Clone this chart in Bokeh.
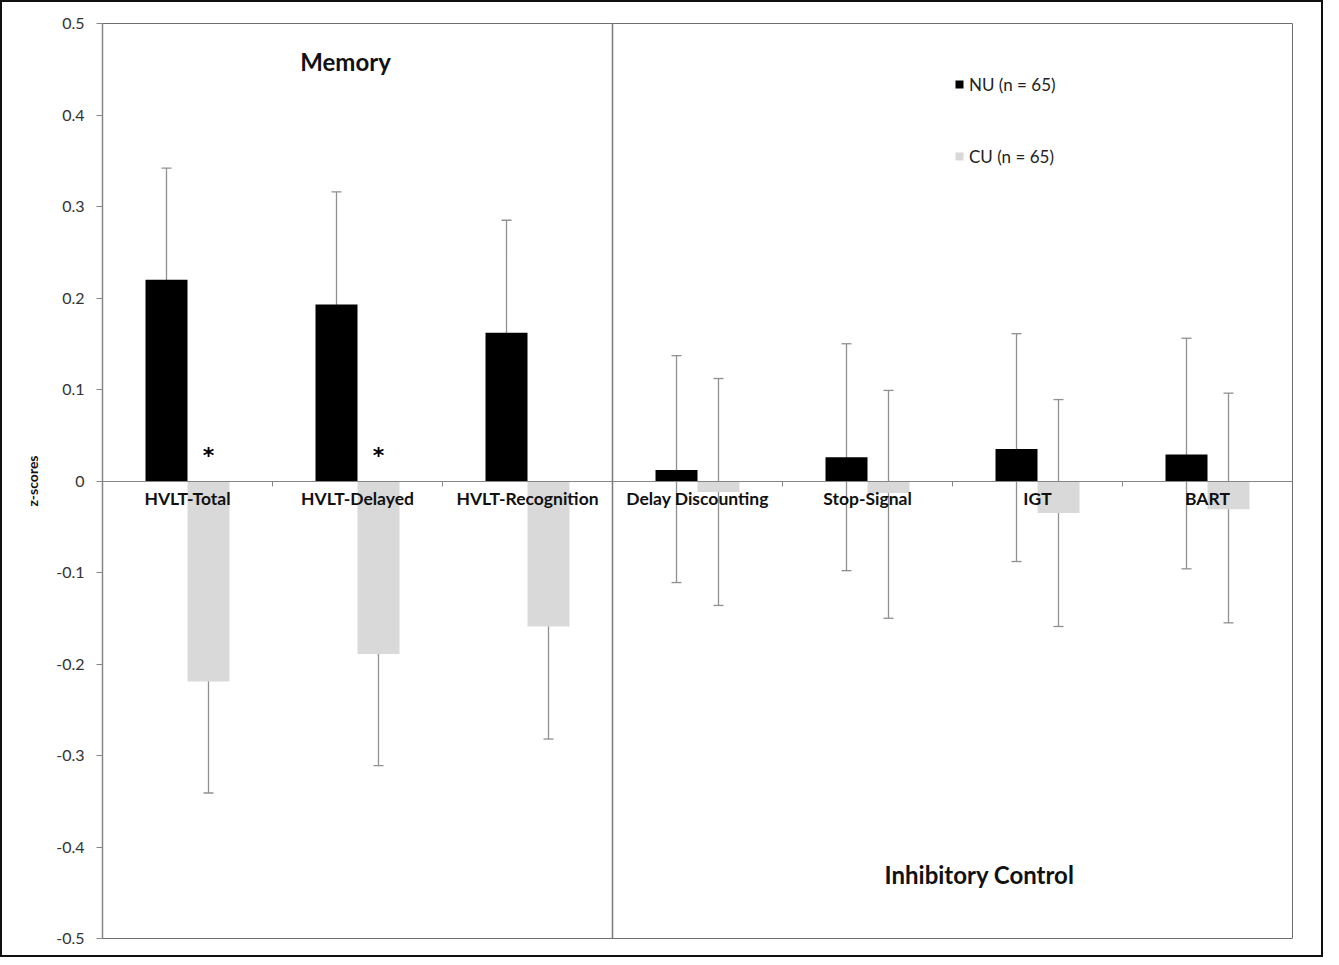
from bokeh.plotting import figure
from bokeh.models import (ColumnDataSource, FixedTicker, Span, Label, Whisker,
                          TeeHead, Legend, LegendItem, Range1d)
from bokeh.transform import dodge
from bokeh.core.properties import value
from bokeh.embed import file_html
from bokeh.resources import INLINE

# ---------------- data ----------------
categories = ["HVLT-Total", "HVLT-Delayed", "HVLT-Recognition",
              "Delay Discounting", "Stop-Signal", "IGT", "BART"]
groups = ["Memory", "Memory", "Memory",
          "Inhibitory Control", "Inhibitory Control", "Inhibitory Control", "Inhibitory Control"]
nu_mean = [0.220, 0.193, 0.162, 0.012, 0.026, 0.035, 0.029]
nu_hi = [0.342, 0.316, 0.285, 0.137, 0.150, 0.161, 0.156]
nu_lo = [0.098, 0.071, 0.038, -0.111, -0.098, -0.088, -0.096]
cu_mean = [-0.219, -0.189, -0.159, -0.012, -0.013, -0.035, -0.031]
cu_hi = [-0.098, -0.067, -0.035, 0.112, 0.099, 0.089, 0.096]
cu_lo = [-0.341, -0.311, -0.282, -0.136, -0.150, -0.159, -0.155]
sig_marks = ["*", "*", "", "", "", "", ""]
y_ticks = [-0.5, -0.4, -0.3, -0.2, -0.1, 0, 0.1, 0.2, 0.3, 0.4, 0.5]
y_tick_labels = ["-0.5", "-0.4", "-0.3", "-0.2", "-0.1", "0", "0.1", "0.2", "0.3", "0.4", "0.5"]
nu_label = "NU (n = 65)"
cu_label = "CU (n = 65)"

# ---------------- styles ----------------
FONT = "Lato"
NU_COLOR = "#000000"
CU_COLOR = "#d9d9d9"
ERR_COLOR = "#909090"
AXIS_COLOR = "#868686"
BAR_W = 0.247

xs = list(range(len(categories)))
src = ColumnDataSource(dict(x=xs, cat=categories, nu=nu_mean, nu_hi=nu_hi, nu_lo=nu_lo,
                            cu=cu_mean, cu_hi=cu_hi, cu_lo=cu_lo, sig=sig_marks))

p = figure(width=1323, height=957, output_backend="svg", toolbar_location=None,
           x_range=Range1d(-0.5, len(categories) - 0.5), y_range=Range1d(-0.5, 0.5),
           min_border_left=100, min_border_right=33, min_border_top=21, min_border_bottom=21)
p.styles = {"border": "2px solid #111111", "box-sizing": "border-box"}
p.grid.visible = False
p.outline_line_color = "#6e6e6e"
p.outline_line_width = 1
p.background_fill_color = "white"
p.border_fill_color = "white"

# bars
r_nu = p.vbar(x=dodge("x", -BAR_W / 2, range=p.x_range), top="nu", bottom=0, width=BAR_W,
              source=src, fill_color=NU_COLOR, line_color=None)
r_cu = p.vbar(x=dodge("x", BAR_W / 2, range=p.x_range), top="cu", bottom=0, width=BAR_W,
              source=src, fill_color=CU_COLOR, line_color=None)

# error bars
for off, lo, hi in [(-BAR_W / 2, "nu_lo", "nu_hi"), (BAR_W / 2, "cu_lo", "cu_hi")]:
    w = Whisker(source=src, base=dodge("x", off, range=p.x_range), lower=lo, upper=hi,
                line_color=ERR_COLOR, line_width=1.3,
                upper_head=TeeHead(size=10, line_color=ERR_COLOR, line_width=1.3),
                lower_head=TeeHead(size=10, line_color=ERR_COLOR, line_width=1.3))
    p.add_layout(w)

# significance marks
p.text(x=dodge("x", BAR_W / 2, range=p.x_range), y=0, text="sig", source=src,
       text_font=value("DejaVu Sans"), text_font_style="bold", text_font_size="22px",
       text_align="center", text_baseline="middle", y_offset=-26, text_color="black")

# divider between domains
n_mem = groups.count("Memory")
p.add_layout(Span(location=n_mem - 0.5, dimension="height", line_color="#7a7a7a", line_width=1.5))

# domain titles
p.add_layout(Label(x=(n_mem - 1) / 2, y=0.5, x_offset=-12, y_offset=-38, text="Memory",
                   text_font=FONT, text_font_style="bold", text_font_size="24px",
                   text_color="#111111", text_align="center", text_baseline="middle"))
p.add_layout(Label(x=(n_mem + len(categories) - 1) / 2, y=-0.5, x_offset=27, y_offset=64,
                   text="Inhibitory Control", text_color="#111111",
                   text_font=FONT, text_font_style="bold", text_font_size="24px",
                   text_align="center", text_baseline="middle"))

# x axis pinned at zero
xa = p.xaxis[0]
xa.fixed_location = 0
xa.ticker = FixedTicker(ticks=xs, minor_ticks=[i + 0.5 for i in xs[:-1]])
xa.major_label_overrides = {i: c for i, c in zip(xs, categories)}
xa.major_tick_line_color = None
xa.minor_tick_line_color = AXIS_COLOR
xa.minor_tick_out = 5
xa.minor_tick_in = 0
xa.axis_line_color = AXIS_COLOR
xa.major_label_standoff = 1
xa.major_label_text_font = FONT
xa.major_label_text_font_style = "bold"
xa.major_label_text_font_size = "17.5px"
xa.major_label_text_color = "#111111"

# y axis
ya = p.yaxis[0]
ya.ticker = FixedTicker(ticks=y_ticks, minor_ticks=[])
ya.major_label_overrides = {t: l for t, l in zip(y_ticks, y_tick_labels)}
ya.axis_line_color = AXIS_COLOR
ya.axis_line_width = 1.5
ya.major_tick_line_color = AXIS_COLOR
ya.major_tick_out = 6
ya.major_tick_in = 0
ya.major_label_standoff = 12
ya.major_label_text_font = FONT
ya.major_label_text_font_size = "16px"
ya.major_label_text_color = "#333333"
ya.axis_label = "z-scores"
ya.axis_label_text_font = FONT
ya.axis_label_text_font_style = "bold"
ya.axis_label_text_font_size = "14px"
ya.axis_label_text_color = "#111111"
ya.axis_label_standoff = 12

# legend
legend = Legend(items=[LegendItem(label=nu_label, renderers=[r_nu]),
                       LegendItem(label=cu_label, renderers=[r_cu])],
                location=(852, 771), orientation="vertical",
                glyph_width=10, glyph_height=10, label_height=22, spacing=50,
                padding=0, margin=0, label_standoff=5,
                border_line_color=None, background_fill_alpha=0,
                label_text_font=FONT, label_text_font_size="17px", label_text_color="#222222")
p.add_layout(legend)

open("out.html", "w").write(file_html(p, INLINE))
